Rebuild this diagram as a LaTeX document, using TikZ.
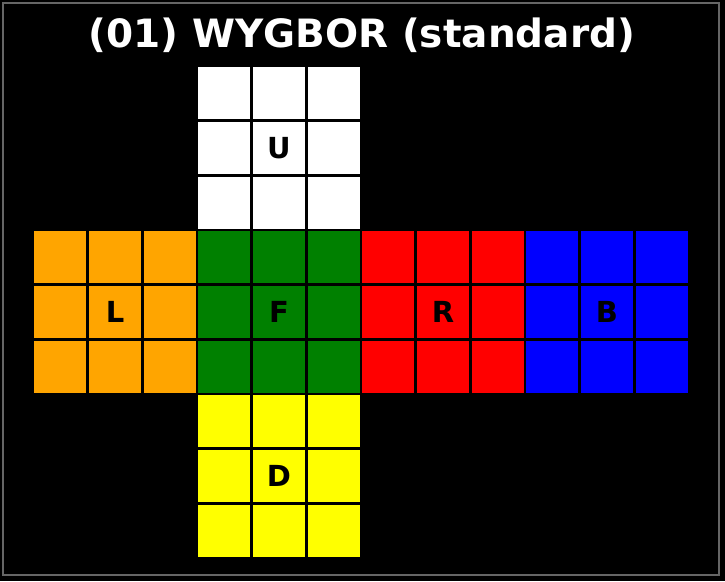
\documentclass[tikz,border=0pt]{standalone}
\usepackage{fontspec}
\setmainfont{DejaVu Sans}
\definecolor{stickerorange}{HTML}{FFA500}
\definecolor{stickergreen}{HTML}{008000}
\definecolor{stickeryellow}{HTML}{FFFF00}
\definecolor{stickerred}{HTML}{FF0000}
\definecolor{stickerblue}{HTML}{0000FF}
\definecolor{framegray}{HTML}{666666}
\begin{document}
\begin{tikzpicture}[x=1pt, y=-1pt, every node/.style={font=\bfseries}]
        \useasboundingbox (0,0) rectangle (725,581);
        \fill[black] (0,0) rectangle (725,581);
        \draw[framegray, line width=2pt] (3,3) rectangle (719,575);
        \node[text=white, font=\bfseries\fontsize{39}{39}\selectfont] (title) at (362,35) {(01) WYGBOR (standard)};
        \foreach \face/\facecol/\fx/\fy in {U/white/1/0, L/stickerorange/0/1, F/stickergreen/1/1, R/stickerred/2/1, B/stickerblue/3/1, D/stickeryellow/1/2} {
            \foreach \i in {0,1,2}
                \foreach \j in {0,1,2}
                    \filldraw[fill=\facecol, draw=black, line width=2.5pt]
                        ({33+(3*\fx+\i)*54.67},{66+(3*\fy+\j)*54.67}) rectangle +(54.67,54.67);
            \node[font=\bfseries\fontsize{29}{29}\selectfont] (face-\face)
                at ({33+(3*\fx+1.5)*54.67},{66+(3*\fy+1.5)*54.67}) {\face};
        }
    \end{tikzpicture}
\end{document}
